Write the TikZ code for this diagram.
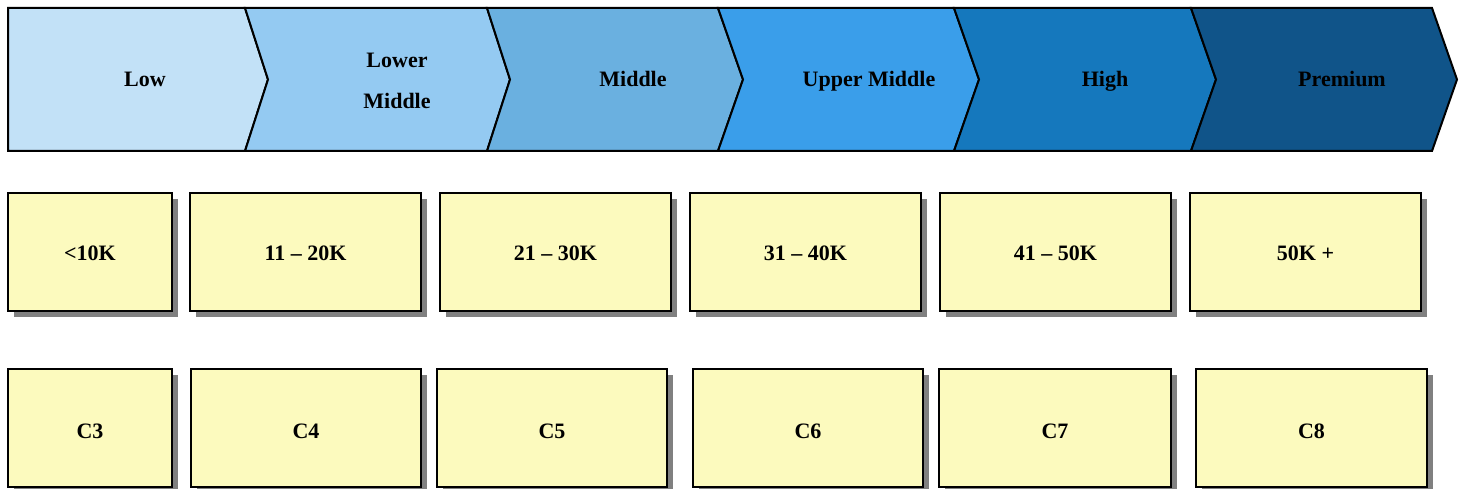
\documentclass[tikz,border=0pt]{standalone}
\usepackage{fontspec}
\setmainfont{Liberation Serif}
\usetikzlibrary{shadows}
\definecolor{bandA}{RGB}{194,225,247}
\definecolor{bandB}{RGB}{148,202,242}
\definecolor{bandC}{RGB}{106,176,224}
\definecolor{bandD}{RGB}{58,158,234}
\definecolor{bandE}{RGB}{21,120,189}
\definecolor{bandF}{RGB}{16,84,137}
\definecolor{cellfill}{RGB}{252,250,190}
\definecolor{cellshadow}{RGB}{128,128,128}
\begin{document}
\begin{tikzpicture}[x=1pt,y=-1pt,
  band/.style={draw=black,line width=2pt,line join=miter},
  bandtext/.style={font=\fontsize{22}{41}\selectfont\bfseries,align=center,text=black,anchor=base},
  cell/.style={draw=black,line width=2pt,fill=cellfill,
    minimum height=118pt,inner sep=0pt,
    font=\fontsize{22}{26}\selectfont\bfseries,
    drop shadow={shadow xshift=6pt,shadow yshift=-6pt,fill=cellshadow,opacity=1}},
  rangecell/.style={cell,text height=17pt,text depth=0pt},
  codecell/.style={cell,text height=20pt,text depth=0pt}]
\useasboundingbox (0,0) rectangle (1459,489);

% income bands as a row of chevrons
\path[band,fill=bandA] (8,8) -- (245,8) -- (268,79.5) -- (245,151) -- (8,151) -- cycle;
\path[band,fill=bandB] (245,8) -- (487,8) -- (510,79.5) -- (487,151) -- (245,151) -- (268,79.5) -- cycle;
\path[band,fill=bandC] (487,8) -- (718,8) -- (743,79.5) -- (718,151) -- (487,151) -- (510,79.5) -- cycle;
\path[band,fill=bandD] (718,8) -- (954,8) -- (979,79.5) -- (954,151) -- (718,151) -- (743,79.5) -- cycle;
\path[band,fill=bandE] (954,8) -- (1191,8) -- (1216,79.5) -- (1191,151) -- (954,151) -- (979,79.5) -- cycle;
\path[band,fill=bandF] (1191,8) -- (1432,8) -- (1457,79.5) -- (1432,151) -- (1191,151) -- (1216,79.5) -- cycle;

\node[bandtext] (low)   at (145,87)  {Low};
\node[bandtext,anchor=center] (lower) at (397,81)  {Lower\\Middle};
\node[bandtext] (mid)   at (633,87)  {Middle};
\node[bandtext] (upper) at (869,87)  {Upper Middle};
\node[bandtext] (high)  at (1105,87) {High};
\node[bandtext] (prem)  at (1342,87) {Premium};

% income ranges
\node[rangecell,minimum width=164pt] (r1) at (90,252)     {<10K};
\node[rangecell,minimum width=231pt] (r2) at (305.5,252)  {11 – 20K};
\node[rangecell,minimum width=231pt] (r3) at (555.5,252)  {21 – 30K};
\node[rangecell,minimum width=231pt] (r4) at (805.5,252)  {31 – 40K};
\node[rangecell,minimum width=231pt] (r5) at (1055.5,252) {41 – 50K};
\node[rangecell,minimum width=231pt] (r6) at (1305.5,252) {50K +};

% class codes
\node[codecell,minimum width=164pt] (c3) at (90,428)     {C3};
\node[codecell,minimum width=230pt] (c4) at (306,428)    {C4};
\node[codecell,minimum width=230pt] (c5) at (552,428)    {C5};
\node[codecell,minimum width=230pt] (c6) at (808,428)    {C6};
\node[codecell,minimum width=232pt] (c7) at (1055,428)   {C7};
\node[codecell,minimum width=231pt] (c8) at (1311.5,428) {C8};
\end{tikzpicture}
\end{document}
